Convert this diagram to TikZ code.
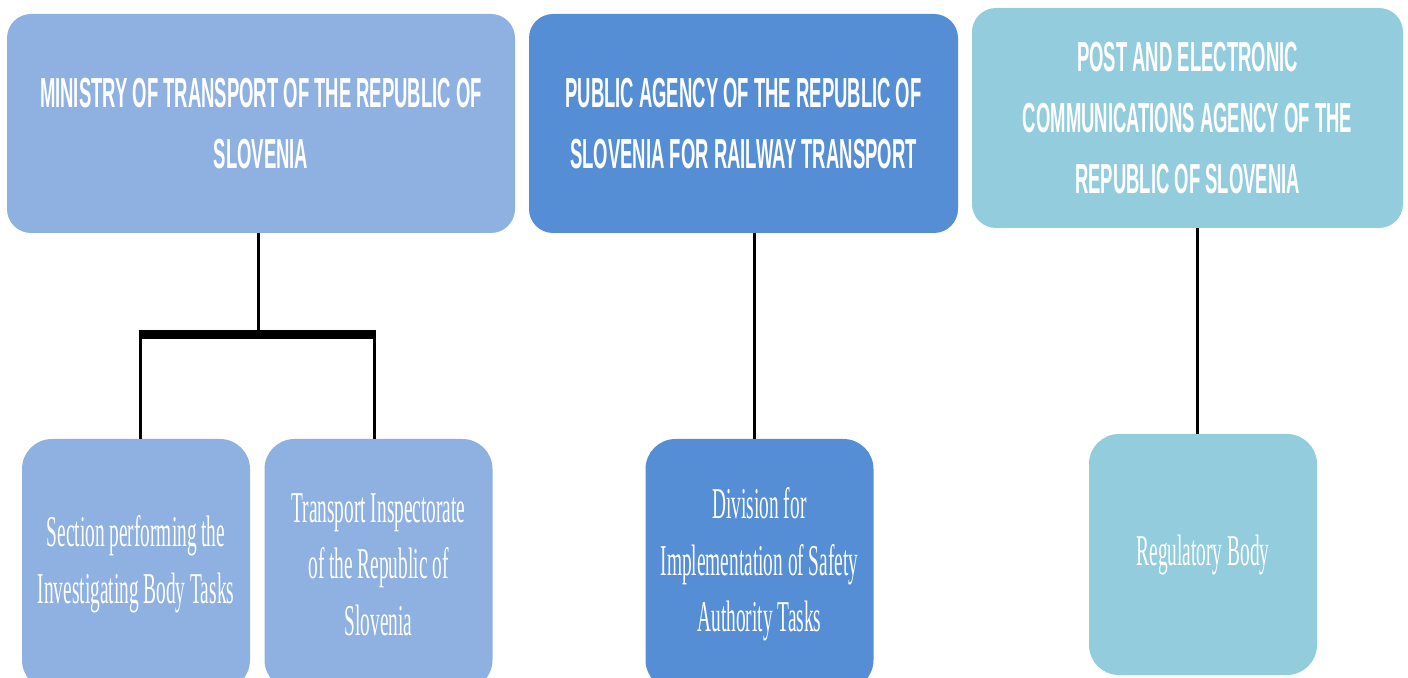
\documentclass[tikz,border=0pt]{standalone}
\usepackage{fontspec}
\newfontfamily\headfont[FakeStretch=0.44]{Liberation Sans}
\newfontfamily\subfont[FakeStretch=0.44]{Liberation Serif}
\definecolor{lightblue}{HTML}{8EB1E1}
\definecolor{midblue}{HTML}{558ED5}
\definecolor{aqua}{HTML}{93CDDD}
\tikzset{
  topbox/.style={rectangle, rounded corners=12pt, inner sep=0pt, outer sep=0pt,
    text=white, align=center, font=\headfont\bfseries\fontsize{21}{30.5}\selectfont,
    minimum height=109.5pt},
  subbox/.style={rectangle, rounded corners=15pt, inner sep=0pt, outer sep=0pt,
    text=white, align=center, font=\subfont\fontsize{22}{28.3}\selectfont,
    minimum width=114pt},
  link/.style={draw=black, line width=1.5pt},
  busbar/.style={draw=black, line width=4.5pt}
}
\begin{document}
\begin{tikzpicture}[x=0.5pt,y=-0.5pt]
\useasboundingbox (0,0) rectangle (1408,678);
% top boxes
\node[topbox, fill=lightblue, minimum width=254pt] (A) at (261,123.5)
  {MINISTRY OF TRANSPORT OF THE REPUBLIC OF\\SLOVENIA};
\node[topbox, fill=midblue, minimum width=214.5pt] (B) at (743.5,123.5)
  {PUBLIC AGENCY OF THE REPUBLIC OF\\SLOVENIA FOR RAILWAY TRANSPORT};
\node[topbox, fill=aqua, minimum width=215.5pt, minimum height=110pt] (C) at (1187.5,118)
  {\raisebox{0pt}{}POST AND ELECTRONIC\\COMMUNICATIONS AGENCY OF THE\\REPUBLIC OF SLOVENIA};
% bottom boxes
\node[subbox, fill=lightblue, minimum height=125.5pt] (D) at (136,564.5)
  {Section performing the\\Investigating Body Tasks};
\node[subbox, fill=lightblue, minimum height=125.5pt] (E) at (378.5,564.5)
  {Transport Inspectorate\\of the Republic of\\Slovenia};
\node[subbox, fill=midblue, minimum height=125.5pt] (F) at (759.5,564.5)
  {Division for\\Implementation of Safety\\Authority Tasks};
\node[subbox, fill=aqua, minimum height=120.5pt] (G) at (1203,554.5)
  {Regulatory Body};
% connectors
\coordinate (j) at (258,335);
\coordinate (jl) at (140,335);
\coordinate (jr) at (374,335);
\coordinate (cB) at (754,300);
\coordinate (cC) at (1197,300);
\draw[link] (A.south -| j) -- (j);
\draw[busbar] ([xshift=-0.75pt]jl) -- ([xshift=0.75pt]jr);
\draw[link] (jl) -- (D.north -| jl);
\draw[link] (jr) -- (E.north -| jr);
\draw[link] (B.south -| cB) -- (F.north -| cB);
\draw[link] (C.south -| cC) -- (G.north -| cC);
\end{tikzpicture}
\end{document}
